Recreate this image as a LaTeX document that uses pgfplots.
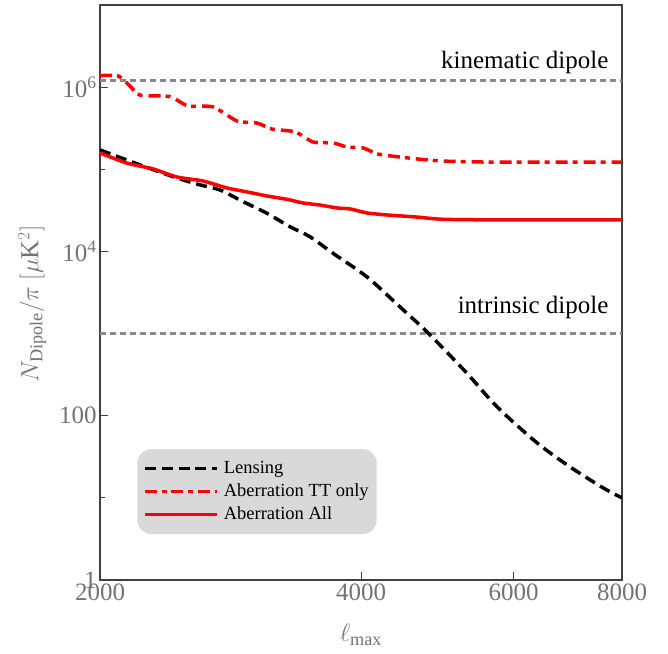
\documentclass[border=0pt]{standalone}
\usepackage{fontspec}
\setmainfont{Liberation Serif}
\usepackage{pgfplots}
\pgfplotsset{compat=1.18}

\definecolor{tickgray}{RGB}{115,115,115}
\definecolor{refgray}{RGB}{136,136,136}
\definecolor{legendgray}{RGB}{217,217,217}
\definecolor{framegray}{RGB}{64,64,64}

\begin{document}
\begin{tikzpicture}
\begin{axis}[
    name=ax,
    width=522pt, height=575pt, scale only axis,
    xmode=log, ymode=log,
    xmin=2000, xmax=8000, ymin=1, ymax=1e7,
    xtick={2000,4000,6000,8000},
    xticklabels={2000,4000,6000,8000},
    xminorticks=false,
    ytick={1,100,10000,1000000},
    yticklabels={1,100,10\textsuperscript{4},10\textsuperscript{6}},
    minor ytick={10,1000,100000},
    xtick pos=bottom, ytick pos=left,
    major tick length=8pt, minor tick length=5pt,
    tick style={framegray, line width=1pt},
    axis line style={framegray, line width=1.2pt},
    tick label style={font=\fontsize{25}{30}\selectfont, text=tickgray},
    xlabel={$\ell_{\mathrm{max}}$},
    ylabel={$N_{\mathrm{Dipole}}/\pi\ [\mu\mathrm{K}^2]$},
    label style={font=\fontsize{26}{30}\selectfont, text=tickgray},
    xlabel style={at={(axis description cs:0.5,-0.096)}, anchor=center},
    ylabel style={at={(axis description cs:-0.13,0.48)}, anchor=center},
    legend cell align=left,
    legend style={at={(axis description cs:0.071,0.228)}, anchor=north west,
        draw=none, fill=legendgray, rounded corners=14pt,
        font=\fontsize{18.5}{23}\selectfont, inner xsep=6pt, inner ysep=8pt,
        row sep=0pt, column sep=3pt,
        nodes={text height=13pt, text depth=4pt, inner ysep=3pt}},
    legend image code/.code={\draw[#1] plot coordinates {(0pt,0pt) (36pt,0pt) (72pt,0pt)};},
]

% kinematic and intrinsic dipole levels
\addplot[refgray, line width=3pt, dash pattern=on 6pt off 4pt, forget plot]
    coordinates {(2000,1.2e6) (8000,1.2e6)};
\addplot[refgray, line width=3pt, dash pattern=on 6pt off 4pt, forget plot]
    coordinates {(2000,1000) (8000,1000)};

% Lensing
\addplot[black, line width=3.5pt, dash pattern=on 11pt off 6pt, smooth] coordinates {
    (2000,1.72e5) (2224,1.13e5) (2454,7.83e4) (2608,6.46e4) (2750,5.60e4)
    (2924,4.04e4) (3116,2.91e4) (3312,2.00e4) (3492,1.51e4) (3714,9.48e3)
    (4064,4.89e3) (4436,2.11e3) (4778,1.02e3) (5296,331) (5742,128)
    (6386,46.6) (6970,23.8) (7612,13.2) (8000,10)
};
\addlegendentry{Lensing}

% Aberration TT only
\addplot[red, line width=3.5pt, dash pattern=on 12pt off 5pt on 5pt off 6pt, smooth, tension=0.4] coordinates {
    (2000,1.38e6) (2098,1.37e6) (2166,1.03e6) (2224,8.0e5) (2408,7.66e5)
    (2526,5.9e5) (2700,5.74e5) (2878,3.87e5) (3034,3.66e5) (3158,3.09e5)
    (3358,2.85e5) (3522,2.15e5) (3716,2.09e5) (3854,1.87e5) (4022,1.82e5)
    (4176,1.54e5) (4434,1.41e5) (4766,1.30e5) (5062,1.25e5) (5790,1.22e5)
    (8000,1.22e5)
};
\addlegendentry{Aberration TT only}

% Aberration All
\addplot[red, line width=3.5pt, smooth, tension=0.4] coordinates {
    (2000,1.58e5) (2148,1.19e5) (2302,1.01e5) (2454,8.05e4) (2628,7.21e4)
    (2802,5.92e4) (2956,5.30e4) (3116,4.73e4) (3286,4.31e4) (3428,3.89e4)
    (3588,3.67e4) (3754,3.38e4) (3886,3.29e4) (4064,2.94e4) (4284,2.78e4)
    (4642,2.62e4) (4976,2.46e4) (5790,2.42e4) (8000,2.42e4)
};
\addlegendentry{Aberration All}

\node[anchor=base east, font=\fontsize{25}{30}\selectfont] at (axis cs:7790,1.71e6) {kinematic dipole};
\node[anchor=base east, font=\fontsize{25}{30}\selectfont] at (axis cs:7790,1780) {intrinsic dipole};
\end{axis}
\path (ax.north east) ++(46pt,5pt);
\path (ax.south west) ++(-100pt,-73pt);
\end{tikzpicture}
\end{document}
